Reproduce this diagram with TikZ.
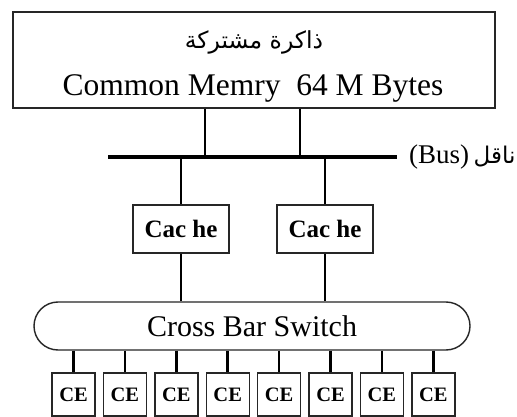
\documentclass[tikz,border=0pt]{standalone}
\usepackage{fontspec}
\setmainfont{Liberation Serif}
\newfontfamily\arabicfont[Script=Arabic]{DejaVu Sans}
\TeXXeTstate=1
\begin{document}
\begin{tikzpicture}[x=1pt,y=-1pt,
  box/.style={draw=black!85,line width=1.4pt,fill=white,inner sep=0pt},
  wire/.style={line width=2.6pt,black},
  cebox/.style={box,minimum width=43pt,minimum height=43pt,font=\fontsize{20.5}{20.5}\selectfont\bfseries},
  cachebox/.style={box,minimum width=96pt,minimum height=48pt,font=\fontsize{25}{25}\selectfont\bfseries}]
\useasboundingbox[fill=white] (0,0) rectangle (517,417);
% memory
\node[box,minimum width=482pt,minimum height=96pt] (mem) at (254,60) {};
\node[font=\fontsize{23.5}{23.5}\selectfont\arabicfont] (memar) at (254,42) {\beginR ذاكرة مشتركة\endR};
\node[font=\fontsize{31.5}{31.5}\selectfont] (memen) at (253,88) {Common Memry\ \ 64 M Bytes};
% bus
\coordinate (busL) at (108,157);
\coordinate (busR) at (397,157);
\draw[line width=4.5pt,black] (busL) -- (busR);
\node[anchor=west,inner sep=0pt,font=\fontsize{27}{27}\selectfont] (buslbl) at (409,157) {(Bus)\,{\arabicfont\fontsize{23}{23}\selectfont\beginR ناقل\endR}};
\coordinate (m1) at (205,157);
\coordinate (m2) at (300,157);
\draw[wire] (mem.south -| m1) -- (m1);
\draw[wire] (mem.south -| m2) -- (m2);
% caches
\node[cachebox] (c1) at (181,229) {Cac he};
\node[cachebox] (c2) at (325,229) {Cac he};
\draw[wire] (c1.north |- busL) -- (c1.north);
\draw[wire] (c2.north |- busL) -- (c2.north);
% crossbar
\node[box,minimum width=436pt,minimum height=48pt,rounded corners=24pt,font=\fontsize{30}{30}\selectfont] (xbar) at (252,326) {Cross Bar Switch};
\draw[wire] (c1.south) -- (c1.south |- xbar.north);
\draw[wire] (c2.south) -- (c2.south |- xbar.north);
% CEs
\foreach \i/\x in {1/73.5,2/124.9,3/176.3,4/227.7,5/279.1,6/330.5,7/381.9,8/433.3}{
  \node[cebox] (ce\i) at (\x,394.5) {CE};
  \draw[wire] (ce\i.north |- xbar.south) -- (ce\i.north);
}
\end{tikzpicture}
\end{document}
